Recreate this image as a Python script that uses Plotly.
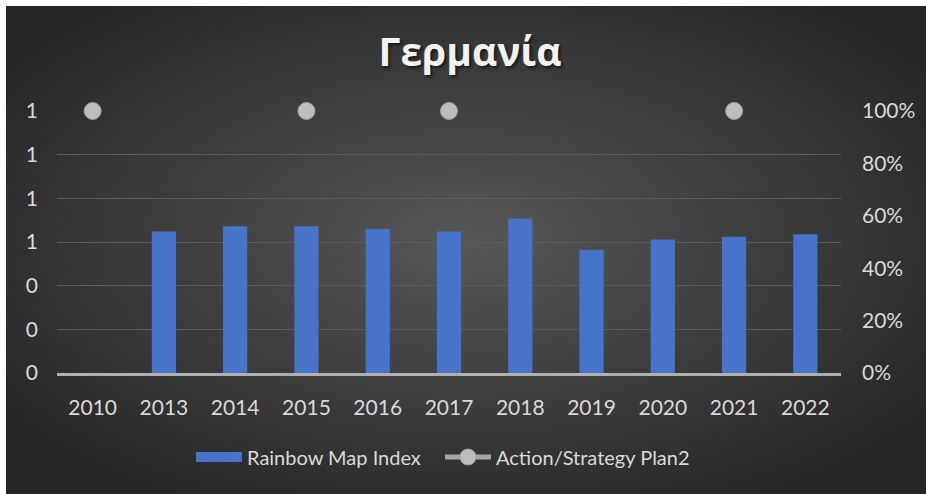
import base64
import plotly.graph_objects as go

years = ["2010", "2013", "2014", "2015", "2016", "2017", "2018", "2019", "2020", "2021", "2022"]
rainbow_index = [None, 0.54, 0.56, 0.56, 0.55, 0.54, 0.59, 0.47, 0.51, 0.52, 0.53]
action_plan = [1, None, None, 1, None, 1, None, None, None, 1, None]
left_ticks = [0, 0.2, 0.4, 0.6, 0.8, 1.0, 1.2]
right_ticks = [0, 0.2, 0.4, 0.6, 0.8, 1.0]

W, H = 926, 494
L, R, T, B = 57, 85, 111, 121
pw, ph = W - L - R, H - T - B

svg = (
    '<svg xmlns="http://www.w3.org/2000/svg" width="920" height="488" preserveAspectRatio="none">'
    '<defs><radialGradient id="g" cx="50%" cy="48%" r="62%">'
    '<stop offset="0" stop-color="#575757"/><stop offset="1" stop-color="#262626"/>'
    '</radialGradient></defs><rect width="920" height="488" fill="url(#g)"/></svg>'
)
bg = "data:image/svg+xml;base64," + base64.b64encode(svg.encode()).decode()

FONT = "Lato"
TICKC = "#d9d9d9"
BAR_C = "#4773c8"

fig = go.Figure()
# dummy trace to anchor the primary (left) axis
fig.add_trace(go.Scatter(x=years, y=[None] * len(years), yaxis="y", showlegend=False,
                         hoverinfo="skip", mode="lines"))
fig.add_trace(go.Bar(x=years, y=rainbow_index, name="Rainbow Map Index", yaxis="y2",
                     legendgroup="rmi", showlegend=False,
                     marker=dict(color=BAR_C, line=dict(width=0)), width=0.34))
# legend swatch for the bars (wide rectangle like the original)
fig.add_trace(go.Scatter(x=[years[0]], y=[None], name="Rainbow Map Index", yaxis="y2",
                         legendgroup="rmi", mode="lines", hoverinfo="skip",
                         line=dict(color=BAR_C, width=15)))
fig.add_trace(go.Scatter(x=years, y=action_plan, name="Action/Strategy Plan2", yaxis="y2",
                         mode="lines+markers", cliponaxis=False,
                         line=dict(color="#a6a6a6", width=5),
                         marker=dict(size=17, color="#bdbdbd", line=dict(color="#a0a0a0", width=1))))

fig.update_layout(
    width=W, height=H,
    margin=dict(l=L, r=R, t=T, b=B, pad=0),
    paper_bgcolor="#262626",
    plot_bgcolor="rgba(0,0,0,0)",
    font=dict(family=FONT, color=TICKC, size=20),
    title=dict(text="<b>Γερμανία</b>", x=470 / W, xref="container", xanchor="center",
               y=1 - 52 / H, yref="container", yanchor="middle",
               font=dict(family="Open Sans", size=39, color="#f2f2f2",
                         shadow="2px 2px 3px rgba(0,0,0,0.6)")),
    xaxis=dict(type="category", showgrid=False, showline=True, linecolor="#b0b0b0",
               linewidth=2.5, ticks="", tickfont=dict(size=21, color=TICKC),
               ticklabelstandoff=14, range=[-0.5, 10.5]),
    yaxis=dict(range=[0, 1.2], tickvals=left_ticks, tickformat=".0f", showgrid=True,
               gridcolor="#5c5c5c", gridwidth=1.2, zeroline=False, showline=False,
               ticks="", tickfont=dict(size=21, color=TICKC), ticklabelstandoff=18),
    yaxis2=dict(range=[0, 1], tickvals=right_ticks, tickformat=".0%", overlaying="y",
                side="right", showgrid=False, zeroline=False, showline=False, ticks="",
                tickfont=dict(size=21, color=TICKC), ticklabelstandoff=20),
    legend=dict(orientation="h", xref="container", yref="container", x=440 / W,
                xanchor="center", y=1 - 457 / H, yanchor="middle",
                font=dict(size=20, color=TICKC), bgcolor="rgba(0,0,0,0)",
                itemwidth=46, traceorder="normal", entrywidthmode="pixels", entrywidth=188),
    bargap=0.66,
    showlegend=True,
    images=[dict(source=bg, xref="paper", yref="paper",
                 x=(6 - L) / pw, y=(H - B - 6) / ph,
                 sizex=(W - 6) / pw, sizey=(H - 6) / ph,
                 xanchor="left", yanchor="top", sizing="stretch", layer="below")],
    shapes=[
        dict(type="rect", xref="paper", yref="paper", x0=-L / pw, x1=(W - L) / pw,
             y0=(H - B - 6) / ph, y1=(H - B) / ph, fillcolor="white", line=dict(width=0),
             layer="above"),
        dict(type="rect", xref="paper", yref="paper", x0=-L / pw, x1=(6 - L) / pw,
             y0=-B / ph, y1=(H - B) / ph, fillcolor="white", line=dict(width=0),
             layer="above"),
    ],
)

fig.write_html("out.html", config={"displayModeBar": False},
               post_script="document.body.style.margin='0';")
